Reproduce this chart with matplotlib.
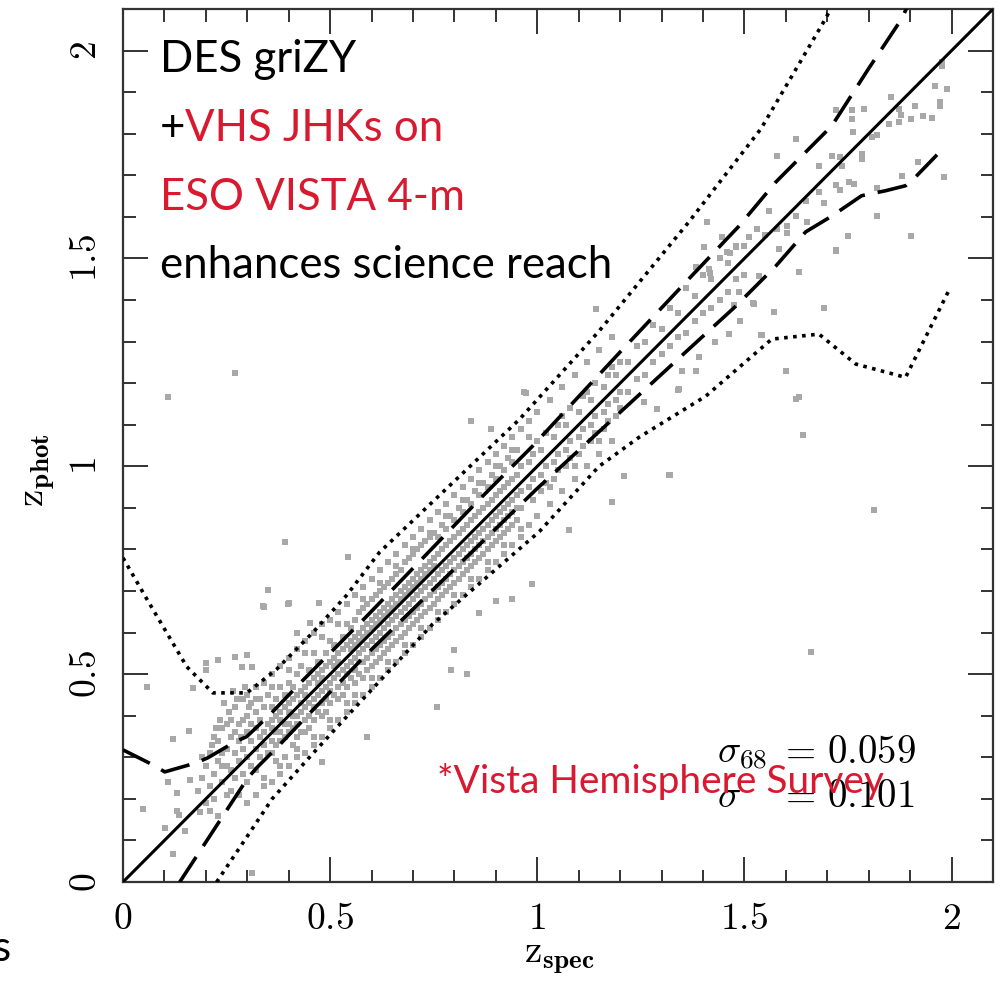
import matplotlib
matplotlib.use("Agg")
import matplotlib.pyplot as plt
from matplotlib.ticker import MultipleLocator, FuncFormatter

plt.rcParams["mathtext.fontset"] = "cm"

RED = "#d71a30"
GREY = "#a8a8a8"

# ---- curves (z_spec, z_phot) ----
ONE_TO_ONE_X = [0.0, 2.1]
ONE_TO_ONE_Y = [0.0, 2.1]

DASH_HI_X = [0.0, 0.072, 0.101, 0.178, 0.205, 0.27, 0.299, 0.354, 0.431, 0.588,
             0.86, 0.988, 1.2, 1.366, 1.487, 1.576, 1.711, 1.8, 1.88, 1.895]
DASH_HI_Y = [0.318, 0.282, 0.265, 0.287, 0.299, 0.337, 0.35, 0.402, 0.482, 0.639,
             0.92, 1.048, 1.275, 1.451, 1.578, 1.684, 1.819, 1.957, 2.077, 2.11]

DASH_LO_X = [0.137, 0.301, 0.323, 0.378, 0.443, 0.588, 0.998, 1.366, 1.48, 1.576,
             1.648, 1.711, 1.783, 1.841, 1.889, 1.913, 1.986]
DASH_LO_Y = [0.0, 0.25, 0.275, 0.33, 0.398, 0.548, 0.945, 1.282, 1.386, 1.482,
             1.564, 1.602, 1.651, 1.663, 1.675, 1.696, 1.771]

DOT_HI_X = [0.0, 0.058, 0.154, 0.217, 0.299, 0.371, 0.458, 0.54, 0.619, 0.957,
            1.149, 1.366, 1.54, 1.696, 1.71]
DOT_HI_Y = [0.78, 0.68, 0.518, 0.455, 0.455, 0.512, 0.6, 0.69, 0.793, 1.113,
            1.325, 1.588, 1.812, 2.077, 2.104]

DOT_LO_X = [0.226, 0.3, 0.36, 0.45, 0.54, 0.747, 1.005, 1.149, 1.246, 1.407,
            1.566, 1.68, 1.769, 1.889, 1.993]
DOT_LO_Y = [0.0, 0.11, 0.2, 0.3, 0.398, 0.62, 0.843, 1.0, 1.07, 1.169,
            1.306, 1.318, 1.246, 1.214, 1.422]

# ---- galaxies (z_spec, z_phot) ----
PTS_LOWZ = [
    (0.058, 0.47), (0.12, 0.344), (0.159, 0.364), (0.048, 0.176), (0.12, 0.067),
    (0.101, 0.13), (0.13, 0.214), (0.108, 0.241), (0.13, 0.17), (0.135, 0.161),
    (0.149, 0.123), (0.186, 0.169), (0.161, 0.246), (0.2, 0.527), (0.2, 0.511),
    (0.169, 0.467), (0.229, 0.535), (0.27, 0.542), (0.299, 0.546), (0.287, 0.518),
    (0.311, 0.518), (0.337, 0.663), (0.398, 0.67), (0.472, 0.672), (0.419, 0.6),
    (0.451, 0.624), (0.48, 0.289), (0.59, 0.349), (0.311, 0.022),
    (0.18, 0.22), (0.19, 0.25), (0.2, 0.19), (0.2, 0.28), (0.21, 0.23), (0.21, 0.31),
    (0.22, 0.26), (0.22, 0.2), (0.23, 0.29), (0.23, 0.34), (0.24, 0.24), (0.24, 0.37),
    (0.25, 0.28), (0.25, 0.32), (0.25, 0.21), (0.26, 0.35), (0.26, 0.39), (0.26, 0.27),
    (0.27, 0.31), (0.27, 0.25), (0.27, 0.42), (0.28, 0.34), (0.28, 0.29), (0.28, 0.38),
    (0.29, 0.44), (0.29, 0.32), (0.29, 0.26), (0.3, 0.36), (0.3, 0.4), (0.3, 0.3),
    (0.31, 0.34), (0.31, 0.28), (0.31, 0.43), (0.32, 0.37), (0.32, 0.32), (0.32, 0.41),
    (0.33, 0.35), (0.33, 0.3), (0.33, 0.39), (0.34, 0.36), (0.34, 0.33), (0.34, 0.42),
    (0.35, 0.38), (0.35, 0.31), (0.35, 0.45), (0.19, 0.3), (0.22, 0.35), (0.24, 0.31),
    (0.26, 0.22), (0.28, 0.21), (0.3, 0.24), (0.32, 0.27), (0.21, 0.17), (0.23, 0.16),
    (0.25, 0.38), (0.27, 0.36), (0.29, 0.39), (0.31, 0.38), (0.33, 0.44), (0.24, 0.28),
    (0.215, 0.33), (0.235, 0.39), (0.255, 0.41), (0.275, 0.44), (0.295, 0.47),
    (0.225, 0.37), (0.245, 0.43), (0.265, 0.46), (0.285, 0.35), (0.305, 0.42),
]

# rows: z_spec, list of z_phot values in that column (dense core)
ROWS_CORE = [
    (0.36, [0.34, 0.39, 0.42, 0.31, 0.37]),
    (0.37, [0.40, 0.33, 0.44, 0.36, 0.29]),
    (0.38, [0.36, 0.41, 0.47, 0.34, 0.39]),
    (0.39, [0.42, 0.35, 0.30, 0.45, 0.38]),
    (0.40, [0.38, 0.43, 0.36, 0.48, 0.41]),
    (0.41, [0.44, 0.37, 0.33, 0.40, 0.47]),
    (0.42, [0.40, 0.45, 0.38, 0.50, 0.35]),
    (0.43, [0.46, 0.41, 0.36, 0.43, 0.52]),
    (0.44, [0.42, 0.47, 0.39, 0.36, 0.45]),
    (0.45, [0.48, 0.43, 0.51, 0.40, 0.37]),
    (0.46, [0.44, 0.49, 0.42, 0.55, 0.39]),
    (0.47, [0.50, 0.45, 0.41, 0.48, 0.53]),
    (0.48, [0.46, 0.51, 0.43, 0.40, 0.49]),
    (0.49, [0.52, 0.47, 0.55, 0.44, 0.41]),
    (0.50, [0.48, 0.53, 0.46, 0.58, 0.43]),
    (0.51, [0.54, 0.49, 0.45, 0.52, 0.57]),
    (0.52, [0.50, 0.55, 0.47, 0.44, 0.53]),
    (0.53, [0.56, 0.51, 0.59, 0.48, 0.45]),
    (0.54, [0.52, 0.57, 0.50, 0.62, 0.47]),
    (0.55, [0.58, 0.53, 0.49, 0.56, 0.61]),
    (0.56, [0.54, 0.59, 0.51, 0.63, 0.48, 0.57]),
    (0.57, [0.60, 0.55, 0.50, 0.58, 0.65, 0.53]),
    (0.58, [0.56, 0.61, 0.53, 0.49, 0.59, 0.66]),
    (0.59, [0.62, 0.57, 0.54, 0.67, 0.51, 0.60]),
    (0.60, [0.58, 0.63, 0.55, 0.52, 0.61, 0.68]),
    (0.61, [0.64, 0.59, 0.56, 0.69, 0.53, 0.62]),
    (0.62, [0.60, 0.65, 0.57, 0.54, 0.63, 0.70]),
    (0.63, [0.66, 0.61, 0.58, 0.71, 0.55, 0.64]),
    (0.64, [0.62, 0.67, 0.59, 0.56, 0.65, 0.72]),
    (0.65, [0.68, 0.63, 0.60, 0.73, 0.57, 0.66]),
    (0.66, [0.64, 0.69, 0.61, 0.58, 0.67, 0.74]),
    (0.67, [0.70, 0.65, 0.62, 0.75, 0.59, 0.68]),
    (0.68, [0.66, 0.71, 0.63, 0.60, 0.69, 0.77]),
    (0.69, [0.72, 0.67, 0.64, 0.78, 0.61, 0.70]),
    (0.70, [0.68, 0.73, 0.65, 0.62, 0.71, 0.79]),
    (0.71, [0.74, 0.69, 0.66, 0.80, 0.63, 0.72]),
    (0.72, [0.70, 0.75, 0.67, 0.64, 0.73, 0.81]),
    (0.73, [0.76, 0.71, 0.68, 0.82, 0.65, 0.74]),
    (0.74, [0.72, 0.77, 0.69, 0.66, 0.75, 0.83]),
    (0.75, [0.78, 0.73, 0.70, 0.84, 0.67, 0.76]),
    (0.76, [0.74, 0.79, 0.71, 0.68, 0.83]),
    (0.77, [0.80, 0.75, 0.72, 0.86, 0.69]),
    (0.78, [0.76, 0.81, 0.73, 0.70, 0.85]),
    (0.79, [0.82, 0.77, 0.74, 0.88, 0.71]),
    (0.80, [0.78, 0.83, 0.75, 0.72, 0.87]),
    (0.81, [0.84, 0.79, 0.76, 0.90, 0.73]),
    (0.82, [0.80, 0.85, 0.77, 0.74, 0.89]),
    (0.83, [0.86, 0.81, 0.78, 0.92, 0.75]),
    (0.84, [0.82, 0.87, 0.79, 0.76, 0.91]),
    (0.85, [0.88, 0.83, 0.80, 0.94, 0.77]),
    (0.86, [0.84, 0.89, 0.81, 0.78, 0.93]),
    (0.87, [0.90, 0.85, 0.82, 0.96, 0.79]),
    (0.88, [0.86, 0.91, 0.83, 0.80, 0.95]),
    (0.89, [0.92, 0.87, 0.84, 0.98, 0.81]),
    (0.90, [0.88, 0.93, 0.85, 0.82, 0.97]),
    (0.91, [0.94, 0.89, 0.86, 1.00, 0.83]),
    (0.92, [0.90, 0.95, 0.87, 0.84, 0.99]),
    (0.93, [0.96, 0.91, 0.88, 1.02, 0.85]),
    (0.94, [0.92, 0.97, 0.89, 0.86, 1.01]),
    (0.95, [0.98, 0.93, 0.90, 1.04, 0.87]),
    (0.96, [0.94, 1.00, 0.90]),
    (0.98, [1.01, 0.95, 1.07]),
    (0.99, [0.97, 0.92, 1.03]),
    (1.01, [1.04, 0.98, 0.94]),
    (1.02, [1.00, 1.08, 0.96]),
    (1.04, [1.07, 1.01, 0.97]),
    (1.05, [1.03, 1.10, 0.99]),
    (1.07, [1.10, 1.04, 1.00]),
    (1.08, [1.06, 1.14, 1.02]),
    (1.10, [1.13, 1.07, 1.03]),
    (1.11, [1.09, 1.17, 1.05]),
    (1.13, [1.16, 1.10, 1.06]),
    (1.14, [1.12, 1.20, 1.08]),
    (1.16, [1.19, 1.13, 1.09]),
    (1.17, [1.15, 1.22, 1.11]),
    (1.19, [1.22, 1.16, 1.12]),
    (1.20, [1.18, 1.25, 1.14]),
    (1.22, [1.25, 1.18]),
    (1.24, [1.21, 1.29]),
    (1.26, [1.30, 1.22]),
    (1.28, [1.25, 1.34]),
    (1.30, [1.33, 1.27]),
    (1.32, [1.29, 1.38]),
    (1.34, [1.37, 1.31]),
    (1.36, [1.32, 1.43]),
    (1.38, [1.41, 1.35]),
    (1.40, [1.37, 1.46]),
    (1.42, [1.45, 1.38]),
    (1.44, [1.40, 1.50]),
    (1.46, [1.49, 1.42]),
    (1.48, [1.45, 1.53]),
    (1.50, [1.53, 1.46]),
]

# rows: z_spec, z_phot values in the wider wings of the band
ROWS_WIDE = [
    (0.30, [0.19, 0.45]),
    (0.32, [0.21, 0.47, 0.44]),
    (0.34, [0.23, 0.48, 0.25]),
    (0.36, [0.24, 0.50, 0.47]),
    (0.38, [0.26, 0.52, 0.28]),
    (0.40, [0.28, 0.54, 0.51]),
    (0.42, [0.30, 0.56, 0.32]),
    (0.44, [0.31, 0.58, 0.55]),
    (0.46, [0.33, 0.60, 0.35]),
    (0.48, [0.35, 0.62, 0.59]),
    (0.50, [0.37, 0.63, 0.39]),
    (0.52, [0.39, 0.65, 0.62]),
    (0.54, [0.41, 0.67, 0.43]),
    (0.56, [0.43, 0.69, 0.45]),
    (0.58, [0.45, 0.71, 0.68]),
    (0.60, [0.47, 0.73, 0.49]),
    (0.62, [0.49, 0.75, 0.72]),
    (0.64, [0.51, 0.77, 0.53]),
    (0.66, [0.53, 0.79, 0.76]),
    (0.68, [0.55, 0.81, 0.57]),
    (0.70, [0.57, 0.83, 0.80]),
    (0.72, [0.59, 0.85, 0.61]),
    (0.74, [0.61, 0.87, 0.84]),
    (0.76, [0.63, 0.89, 0.65]),
    (0.78, [0.65, 0.91, 0.88]),
    (0.80, [0.67, 0.93, 0.69]),
    (0.82, [0.69, 0.95, 0.92]),
    (0.84, [0.71, 0.97, 0.73]),
    (0.86, [0.73, 0.99, 0.96]),
    (0.88, [0.75, 1.01, 0.77]),
    (0.90, [0.77, 1.03, 1.00]),
    (0.92, [0.79, 1.05, 0.81]),
    (0.94, [0.81, 1.07, 1.04]),
    (0.96, [0.83, 1.09, 0.85]),
    (0.98, [0.86, 1.11]),
    (1.00, [0.88, 1.13, 1.06]),
    (1.03, [0.91, 1.16, 0.95]),
    (1.06, [0.94, 1.19, 1.12]),
    (1.09, [0.97, 1.22, 1.00]),
    (1.12, [1.00, 1.25, 1.18]),
    (1.15, [1.03, 1.28, 1.06]),
    (1.18, [1.06, 1.31, 1.24]),
]

PTS_HIGHZ = [
    (1.624, 1.788), (1.578, 1.747), (1.72, 1.858), (1.759, 1.856), (1.788, 1.86),
    (1.759, 1.836), (1.761, 1.805), (1.807, 1.793), (1.819, 1.797), (1.853, 1.889),
    (1.872, 1.86), (1.877, 1.845), (1.901, 1.836), (1.913, 1.867), (1.932, 1.843),
    (1.952, 1.838), (1.973, 1.867), (1.973, 1.876), (1.961, 1.915), (1.99, 1.908),
    (1.976, 1.964), (1.978, 1.972), (1.872, 1.829), (1.848, 1.824), (1.783, 1.752),
    (1.783, 1.74), (1.711, 1.747), (1.73, 1.745), (1.735, 1.723), (1.68, 1.723),
    (1.68, 1.66), (1.72, 1.677), (1.73, 1.665), (1.752, 1.684), (1.764, 1.68),
    (1.82, 1.67), (1.88, 1.699), (1.92, 1.732), (1.981, 1.696), (1.82, 1.602),
    (1.749, 1.554), (1.901, 1.554), (1.72, 1.52), (1.692, 1.634), (1.651, 1.588),
    (1.648, 1.639), (1.624, 1.602), (1.602, 1.578), (1.578, 1.57), (1.602, 1.561),
    (1.583, 1.523), (1.631, 1.467), (1.571, 1.371), (1.692, 1.38), (1.559, 1.614),
    (1.549, 1.556), (1.511, 1.552), (1.53, 1.571), (1.48, 1.528), (1.446, 1.552),
    (1.402, 1.528), (1.458, 1.516), (1.466, 1.513), (1.535, 1.458), (1.487, 1.419),
    (1.523, 1.39), (1.475, 1.388), (1.49, 1.35), (1.462, 1.318), (1.54, 1.316),
    (1.43, 1.299), (1.414, 1.475), (1.417, 1.464), (1.383, 1.479),
]

PTS_OUTLIERS = [
    (0.108, 1.166), (0.27, 1.224), (0.39, 0.817), (0.35, 0.703), (0.34, 0.662),
    (0.40, 0.672), (0.542, 0.781), (0.841, 1.109), (0.889, 1.089), (0.973, 1.176),
    (0.988, 0.716), (1.077, 0.848), (0.94, 0.68), (0.90, 0.675), (0.86, 0.648),
    (0.831, 0.501), (0.793, 0.511), (0.759, 0.421), (0.80, 0.559), (1.142, 1.378),
    (1.631, 1.467), (1.571, 1.371), (1.60, 1.229), (1.631, 1.166), (1.641, 1.075),
    (1.32, 0.98), (1.34, 1.183), (1.72, 1.518), (1.52, 1.393), (1.542, 1.316),
    (1.39, 1.263), (1.35, 1.229), (1.383, 1.229), (1.29, 1.137), (1.258, 1.154),
    (1.41, 1.588), (0.969, 1.178), (1.181, 0.913), (1.21, 0.976), (1.318, 0.98),
    (1.342, 1.186), (1.66, 0.554), (1.812, 0.896), (1.624, 1.161),
]

TICK_MAJOR = 0.5
TICK_MINOR = 0.1
AX_LIM = (0.0, 2.1)


def cm_label(v, _pos):
    return r"$\mathrm{%g}$" % round(v, 2)


fig = plt.figure(figsize=(10.03, 9.83), dpi=100)
ax = fig.add_axes([0.1226, 0.1027, 0.8674, 0.8881])

xs, ys = [], []
for p in PTS_LOWZ + PTS_HIGHZ + PTS_OUTLIERS:
    xs.append(p[0])
    ys.append(p[1])
for zs, zps in ROWS_CORE + ROWS_WIDE:
    for zp in zps:
        xs.append(zs)
        ys.append(zp)
ax.scatter(xs, ys, s=14, marker="s", color=GREY, linewidths=0, zorder=1)

ax.plot(ONE_TO_ONE_X, ONE_TO_ONE_Y, color="k", lw=2.2, zorder=3)
ax.plot(DASH_HI_X, DASH_HI_Y, color="k", lw=2.6, dashes=(8.3, 3.6), zorder=3)
ax.plot(DASH_LO_X, DASH_LO_Y, color="k", lw=2.6, dashes=(8.3, 3.6), zorder=3)
ax.plot(DOT_HI_X, DOT_HI_Y, color="k", lw=2.6, dashes=(1.0, 1.5), zorder=3)
ax.plot(DOT_LO_X, DOT_LO_Y, color="k", lw=2.6, dashes=(1.0, 1.5), zorder=3)

ax.set_xlim(*AX_LIM)
ax.set_ylim(*AX_LIM)
for axis in (ax.xaxis, ax.yaxis):
    axis.set_major_locator(MultipleLocator(TICK_MAJOR))
    axis.set_minor_locator(MultipleLocator(TICK_MINOR))
    axis.set_major_formatter(FuncFormatter(cm_label))
ax.tick_params(which="both", direction="in", top=True, right=True,
               color="#333333", width=1.4)
ax.tick_params(which="major", length=18, labelsize=27, pad=14)
ax.tick_params(which="minor", length=9)
ax.tick_params(axis="y", labelrotation=90)
for lab in ax.get_yticklabels():
    lab.set_va("center")
for sp in ax.spines.values():
    sp.set_linewidth(1.6)
    sp.set_color("#333333")

fig.text(0.558, 0.026, r"$\mathrm{z}_{\mathbf{spec}}$", fontsize=28,
         ha="center", va="center")
fig.text(0.038, 0.522, r"$\mathrm{z}_{\mathbf{phot}}$", fontsize=28,
         ha="center", va="center", rotation=90)

# sigma statistics
ax.text(1.434, 0.287, r"$\sigma_{68}$", fontsize=28, va="baseline")
ax.text(1.583, 0.287, r"$=$", fontsize=28, va="baseline")
ax.text(1.699, 0.287, r"$\mathrm{0.059}$", fontsize=28, va="baseline")
ax.text(1.434, 0.181, r"$\sigma$", fontsize=28, va="baseline")
ax.text(1.583, 0.181, r"$=$", fontsize=28, va="baseline")
ax.text(1.699, 0.181, r"$\mathrm{0.101}$", fontsize=28, va="baseline")

# slide annotations
ann = dict(fontsize=31.5, family="Lato", va="baseline")
ax.text(0.089, 1.949, "DES griZY", color="k", **ann)
ax.text(0.089, 1.783, "+", color="k", **ann)
ax.text(0.149, 1.783, "VHS JHKs on", color=RED, **ann)
ax.text(0.089, 1.617, "ESO VISTA 4-m", color=RED, **ann)
ax.text(0.089, 1.453, "enhances science reach", color="k", **ann)
ax.text(0.757, 0.214, "*Vista Hemisphere Survey", color=RED, fontsize=28,
        family="Lato", va="baseline", zorder=5)
fig.text(0.011, 0.035, "Es", fontsize=30, family="Lato", ha="right", va="center")

fig.savefig("out.png", dpi=100)
